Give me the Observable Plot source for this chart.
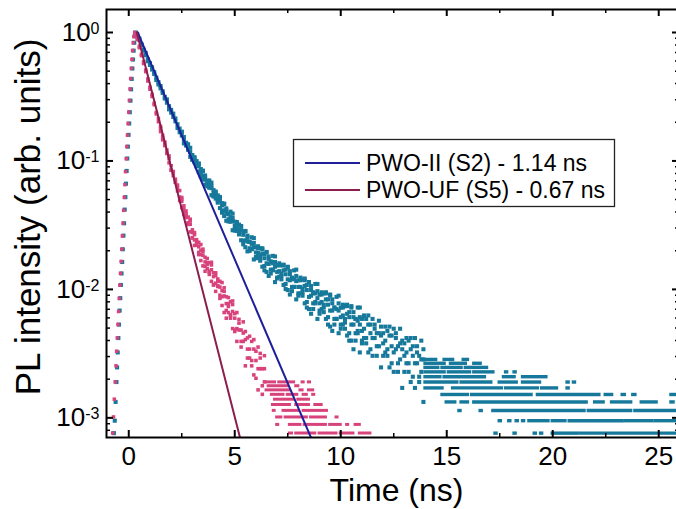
<!DOCTYPE html>
<html><head><meta charset="utf-8">
<script src="https://cdn.jsdelivr.net/npm/d3@7"></script>
<script src="https://cdn.jsdelivr.net/npm/@observablehq/plot@0.6"></script>
<style>body{margin:0;background:#fff}</style>
</head><body><div id="chart"></div>
<script>
// ---------- data ----------
const xTicks = [0, 5, 10, 15, 20, 25];
const xMinorTicks = [2.5, 7.5, 12.5, 17.5, 22.5];
const yTicks = [1, 0.1, 0.01, 0.001];
const yMinorTicks = [0.0008, 0.0009, 0.002, 0.003, 0.004, 0.005, 0.006, 0.007, 0.008, 0.009,
  0.02, 0.03, 0.04, 0.05, 0.06, 0.07, 0.08, 0.09, 0.2, 0.3, 0.4, 0.5, 0.6, 0.7, 0.8, 0.9];
const xDomain = [-1.05, 25.98];
const yDomain = [0.000703, 1.51];

const legendLabels = ["PWO-II (S2) - 1.14 ns", "PWO-UF (S5) - 0.67 ns"];

// photon counts at the peak, used to normalise each curve to 1
const tealPeakCounts = 5263;
const pinkPeakCounts = 7874;

// PWO-II measured data: rising edge [time ns, counts]
const tealRise = [[-0.70,4],[-0.66,5],[-0.62,7],[-0.58,10],[-0.55,13],[-0.52,17],[-0.49,22],[-0.46,28],
  [-0.43,36],[-0.40,45],[-0.37,57],[-0.34,70],[-0.31,86],[-0.28,108],[-0.25,138],[-0.22,172],[-0.19,220],
  [-0.16,275],[-0.13,350],[-0.10,440],[-0.07,550],[-0.04,680],[-0.01,840],[0.02,1030],[0.05,1260],
  [0.08,1550],[0.11,1900],[0.14,2290],[0.17,2760],[0.20,3240],[0.23,3800],[0.26,4380],[0.29,4910],
  [0.32,5263],[0.35,5200]];
// PWO-II measured data: decay [time ns, counts...]
const tealDecay = [[0.4,5107,4965],[0.5,4603,4732],[0.6,4272,4187],[0.7,3804,3879],[0.8,3647,3504],
  [0.9,3261,3142],[1.0,2940,3038],[1.1,2818,2708],[1.2,2500,2585],[1.3,2345,2244],[1.4,2162,2070],
  [1.5,1932,2016],[1.6,1836,1782],[1.7,1611,1660],[1.8,1587,1494],[1.9,1404,1327],[2.0,1250,1315],
  [2.1,1228,1157],[2.2,1071,1127],[2.3,1017,950],[2.4,940,880],[2.5,830,886,888],[2.6,808,771,721],
  [2.7,694,726,729],[2.8,710,647,645],[2.9,618,566,666],
  [3.0,542,585,561,537],[3.1,563,515,533,554],[3.2,488,525,477,497],[3.3,481,435,503,499],[3.4,455,413,440,400],
  [3.5,402,440,376,442],[3.6,406,380,396,344],[3.7,344,367,334,369],[3.8,371,328,346,326],[3.9,323,285,337,357],
  [4.0,281,312,295,278],[4.1,304,268,282,297],[4.2,257,284,249,263],[4.3,260,226,276,272],[4.4,247,217,237,208],
  [4.5,215,243,196,245],[4.6,225,206,218,180],[4.7,185,202,178,204],[4.8,212,179,192,177],[4.9,180,152,190,205],
  [5.0,154,177,164,151],[5.1,176,150,160,171],[5.2,147,168,141,152],[5.3,152,127,164,162],[5.4,148,125,140,118],
  [5.5,127,149,112,150],[5.6,138,124,133,104],[5.7,110,123,105,124],[5.8,134,109,119,108],[5.9,112,90,121,132],
  [6.0,94,112,102,92],[6.1,114,93,101,110],[6.2,93,110,88,97],[6.3,100,79,110,108],[6.4,99,80,92,74],
  [6.5,84,102,72,103],[6.6,95,83,91,67],[6.7,75,86,70,87],[6.8,96,75,84,74],[6.9,79,60,86,95],
  [7.0,65,81,72,64],[7.1,84,66,73,81],[7.2,67,81,63,70],[7.3,74,57,82,81],[7.4,75,58,69,53],
  [7.5,63,78,52,79],[7.6,73,62,69,48],[7.7,55,64,51,65],[7.8,74,55,63,55],[7.9,61,44,67,75],
  [8.0,49,62,55,47],[8.1,65,49,55,62],[8.2,50,63,47,53],[8.3,56,41,64,62],[8.4,57,42,52,38],
  [8.5,46,60,37,60],[8.6,56,47,52,34],[8.7,41,49,37,50],[8.8,58,42,49,41],[8.9,45,31,51,58],
  [9.0,36,48,41,34],[9.1,50,37,42,48],[9.2,38,49,35,40],[9.3,44,31,50,49],[9.4,44,32,40,28],
  [9.5,36,47,27,48],[9.6,44,36,41,25],[9.7,31,38,28,38],[9.8,46,31,37,31],[9.9,36,24,41,47],
  [10.0,28,38,32,26],[10.1,40,28,33,38],[10.2,29,39,26,31],[10.3,34,23,40,39],[10.4,35,24,32,21],
  [10.5,28,38,21,39],[10.6,35,28,32,18],[10.7,24,31,21,31],[10.8,38,25,30,24],[10.9,28,17,32,38],
  [11.0,21,31,25,20],[11.1,33,22,26],[11.2,22,31,20],
  [11.3,28,17,33],[11.4,28,18,24],[11.5,22,31,16],[11.6,28,22,26],[11.7,19,24,16],[11.8,30,19,24],
  [11.9,23,13,27],[12.0,16,24,20],[12.1,27,17,21],[12.2,18,25,16],[12.3,23,13,27],[12.4,23,14,19],
  [12.5,17,26,12],[12.6,24,18,22],[12.7,14,19,12],[12.8,26,15,20],[12.9,18,9,21],[13.0,12,20,16],
  [13.1,22,14,17],[13.2,14,21,12],[13.3,18,10,22],[13.4,19,11,16],[13.5,14,22,9],[13.6,19,14,17],
  [13.7,11,16,10],[13.8,21,12,15],[13.9,15,7,18]];
// PWO-II long tail: count level and the time runs [from, to] in which points sit on that level
const tealTailK = [15, 14, 13, 12, 11, 10, 9, 8, 7, 6, 5, 4];
const tealTailRuns = [
  [[14.0,14.5],[14.9,15.3],[15.8,16.0]],
  [[14.0,14.9],[15.2,15.9],[16.3,16.6]],
  [[14.0,14.6],[14.8,15.7],[15.9,16.9]],
  [[14.0,14.9],[15.1,16.1],[16.3,17.2],[17.8,17.85],[18.2,18.25]],
  [[14.0,14.7],[14.9,16.8],[17.7,18.2],[18.6,19.7]],
  [[14.0,15.5],[15.7,17.1],[17.5,18.3],[18.6,19.4],[20.7,20.75],[21.0,21.05]],
  [[14.0,14.8],[15.3,17.6],[17.8,19.3],[19.5,20.2],[20.7,20.75]],
  [[14.8,16.0],[16.2,19.0],[19.3,22.2],[22.5,22.8],[23.3,23.4],[23.8,23.9],[25.6,25.8]],
  [[15.0,15.4],[15.7,16.0],[16.3,21.6],[22.0,22.4],[22.8,23.7],[24.2,24.9],[25.6,25.7]],
  [[15.6,15.65],[16.6,16.65],[17.2,21.5],[21.7,23.7],[23.9,26.0]],
  [[17.5,17.55],[17.95,18.0],[18.3,18.35],[18.6,18.65],[18.9,19.8],[20.0,20.6],[20.8,23.3],[23.45,24.7],[24.85,26.0]],
  [[17.3,17.35],[18.2,18.25],[19.15,19.2],[19.45,19.5],[20.0,21.15],[21.3,26.0]]];

// PWO-UF measured data
const pinkRise = [[-0.76,6],[-0.72,8],[-0.68,11],[-0.64,15],[-0.60,20],[-0.57,26],[-0.54,33],[-0.51,42],
  [-0.48,53],[-0.45,67],[-0.42,85],[-0.39,105],[-0.36,130],[-0.33,162],[-0.30,205],[-0.27,258],[-0.24,325],
  [-0.21,410],[-0.18,515],[-0.15,650],[-0.12,820],[-0.09,1020],[-0.06,1250],[-0.03,1540],[0.00,1890],
  [0.03,2330],[0.06,2860],[0.09,3450],[0.12,4140],[0.15,4870],[0.18,5700],[0.21,6550],[0.24,7330],
  [0.28,7874],[0.32,7700]];
const pinkDecay = [[0.4,7161,6960],[0.5,6156,5992],[0.6,5195,5326],[0.7,4655,4513],[0.8,3906,4013],
  [0.9,3421,3299],[1.0,2956,2848],[1.1,2500,2595],[1.2,2217,2156],[1.3,1827,1879],[1.4,1686,1590],
  [1.5,1409,1332,1461],[1.6,1182,1245,1150],[1.7,1106,1037,1076],[1.8,906,957,900],[1.9,820,761,862],
  [2.0,722,669,667],[2.1,604,652,636],[2.2,568,538,541],[2.3,460,487,511],[2.4,463,412,387],
  [2.5,382,341,397,409],[2.6,319,352,333,302],[2.7,321,285,299,306],[2.8,260,288,252,257],[2.9,253,221,269,277],
  [3.0,229,199,218,198],[3.1,191,218,173,210],[3.2,192,174,185,176],[3.3,153,169,147,183],[3.4,176,147,159,132],
  [3.5,145,120,155,162],[3.6,119,140,129,109],[3.7,137,114,123,127],[3.8,109,127,103,107],[3.9,112,91,122,128],
  [4.0,106,86,99,85],[4.1,88,106,76,101],[4.2,95,83,91,84],[4.3,71,82,67,91],[4.4,89,69,77,59],
  [4.5,70,52,76,81],[4.6,54,69,61,47],[4.7,68,52,58,61],[4.8,50,63,47,49],[4.9,53,39,60,64],
  [5.0,51,38,47,37],[5.1,39,52,31],[5.2,46,38,43],[5.3,31,38,28],[5.4,44,31,36],[5.5,32,20,37],[5.6,23,33,27],
  [5.7,34,23,27],[5.8,22,31,20],[5.9,27,17,32],[6.0,26,16,22],[6.1,19,28,13],[6.2,25,19,23],[6.3,14,19,12],
  [6.4,24,15,19]];
const pinkTailK = [15, 14, 13, 12, 11, 10, 9, 8, 7, 6];
const pinkTailRuns = [
  [[6.5,6.9],[7.1,7.8],[8.2,8.25],[8.5,8.55]],
  [[6.6,7.5],[7.9,8.0]],
  [[6.5,7.6],[8.1,8.2],[8.5,8.7]],
  [[6.75,7.3],[7.5,7.95],[8.25,8.4],[8.7,8.75]],
  [[6.9,7.8],[8.0,8.5]],
  [[6.8,7.6],[7.9,8.5],[8.8,9.1]],
  [[6.84,6.88],[7.3,8.0],[8.25,9.35]],
  [[7.0,7.2],[7.4,8.4],[8.6,9.3],[9.8,9.85]],
  [[7.0,7.05],[7.6,8.1],[8.3,9.3],[9.5,10.0],[10.3,10.35],[10.7,10.9]],
  [[7.6,7.7],[7.9,8.8],[9.0,9.8],[10.0,10.6],[10.9,11.4]]];

// single-exponential fits (straight lines on the log axis): [time, intensity]
const fitPWOII = [[0.42, 1.0], [8.6, 0.00070]];
const fitPWOUF = [[0.38, 1.0], [5.25, 0.00070]];

// ---------- colours / layout ----------
const tealColor = "#16799b", pinkColor = "#d8437c", blueColor = "#1f1f9c", magentaColor = "#8c1d4f";
const W = 676, H = 509, mL = 106, mT = 9, mB = 72, mR = -3;
const frameW = W - mL - mR, frameH = H - mT - mB;

function points(rise, decay, peak) {
  const out = rise.map(([t, c]) => ({t, v: c / peak}));
  for (const [t, ...cs] of decay) for (const c of cs) out.push({t, v: c / peak});
  return out;
}
function runs(ks, rs, peak) {
  return ks.flatMap((k, i) => rs[i].map(([t0, t1]) => ({v: k / peak, t0, t1})));
}
const tealPts = points(tealRise, tealDecay, tealPeakCounts);
const pinkPts = points(pinkRise, pinkDecay, pinkPeakCounts);
const tealRows = runs(tealTailK, tealTailRuns, tealPeakCounts);
const pinkRows = runs(pinkTailK, pinkTailRuns, pinkPeakCounts);
const fitII = fitPWOII.map(([t, v]) => ({t, v}));
const fitUF = fitPWOUF.map(([t, v]) => ({t, v}));

const svg = Plot.plot({
  width: W, height: H,
  marginLeft: mL, marginTop: mT, marginBottom: mB, marginRight: mR,
  style: {fontFamily: "'Liberation Sans', Arial, sans-serif", background: "#fff", color: "#000", overflow: "hidden"},
  x: {domain: xDomain},
  y: {type: "log", domain: yDomain},
  marks: [
    Plot.ruleY(tealRows, {y: "v", x1: "t0", x2: "t1", stroke: tealColor, strokeWidth: 3.4, strokeLinecap: "square", clip: true}),
    Plot.dot(tealPts, {x: "t", y: "v", symbol: "square", r: 2.3, fill: tealColor, clip: true}),
    Plot.ruleY(pinkRows, {y: "v", x1: "t0", x2: "t1", stroke: pinkColor, strokeWidth: 3, strokeLinecap: "square", clip: true}),
    Plot.dot(pinkPts, {x: "t", y: "v", symbol: "square", r: 2.0, fill: pinkColor, clip: true}),
    Plot.line(fitII, {x: "t", y: "v", stroke: blueColor, strokeWidth: 2, clip: true}),
    Plot.line(fitUF, {x: "t", y: "v", stroke: magentaColor, strokeWidth: 2, clip: true}),
    // inward ticks on all four sides
    Plot.ruleX(xTicks, {insetTop: frameH - 7, stroke: "#000", strokeWidth: 2}),
    Plot.ruleX(xMinorTicks, {insetTop: frameH - 4, stroke: "#000", strokeWidth: 1.5}),
    Plot.ruleX(xTicks, {insetBottom: frameH - 7, stroke: "#000", strokeWidth: 2}),
    Plot.ruleX(xMinorTicks, {insetBottom: frameH - 4, stroke: "#000", strokeWidth: 1.5}),
    Plot.ruleY(yTicks, {insetRight: frameW - 7, stroke: "#000", strokeWidth: 2}),
    Plot.ruleY(yMinorTicks, {insetRight: frameW - 4, stroke: "#000", strokeWidth: 1.5}),
    Plot.ruleY(yTicks, {insetLeft: frameW - 7, stroke: "#000", strokeWidth: 2}),
    Plot.ruleY(yMinorTicks, {insetLeft: frameW - 4, stroke: "#000", strokeWidth: 1.5}),
    Plot.frame({stroke: "#000", strokeWidth: 2}),
    Plot.axisX(xTicks, {tickSize: 0, tickPadding: 9, fontSize: 26, label: null, tickFormat: d => String(d)}),
    Plot.axisY(yTicks, {tickSize: 0, tickPadding: 7, fontSize: 26, label: null,
      tickFormat: d => "10^" + Math.round(Math.log10(d))}),
    Plot.text(["Time (ns)"], {text: d => d, frameAnchor: "bottom", textAnchor: "middle", lineAnchor: "middle",
      dx: 3.5, dy: 53, fontSize: 32, fill: "#000"}),
    Plot.text(["PL intensity (arb. units)"], {text: d => d, frameAnchor: "left", textAnchor: "middle", lineAnchor: "middle",
      dx: -78, dy: -6.5, rotate: -90, fontSize: 35, fill: "#000"})
  ]
});

// superscript exponents on the y tick labels
d3.select(svg).selectAll('g[aria-label="y-axis tick label"] text').each(function () {
  const [base, exp] = this.textContent.split("^");
  const t = d3.select(this);
  t.text(base);
  t.append("tspan").attr("dy", "-0.45em").attr("font-size", "16px").text(exp);
});

// legend box
const lg = d3.select(svg).append("g").attr("font-family", "'Liberation Sans', Arial, sans-serif")
  .attr("text-anchor", "start");
lg.append("rect").attr("x", 293.5).attr("y", 139.5).attr("width", 321).attr("height", 67)
  .attr("fill", "#fff").attr("stroke", "#222").attr("stroke-width", 1.3);
[blueColor, magentaColor].forEach((c, i) => {
  const yy = 163 + i * 27;
  lg.append("line").attr("x1", 305).attr("x2", 360).attr("y1", yy).attr("y2", yy)
    .attr("stroke", c).attr("stroke-width", 2);
  lg.append("text").attr("x", 366).attr("y", yy + 8).attr("font-size", 23).attr("fill", "#000")
    .attr("text-anchor", "start").text(legendLabels[i]);
});

document.getElementById("chart").appendChild(svg);
</script></body></html>
